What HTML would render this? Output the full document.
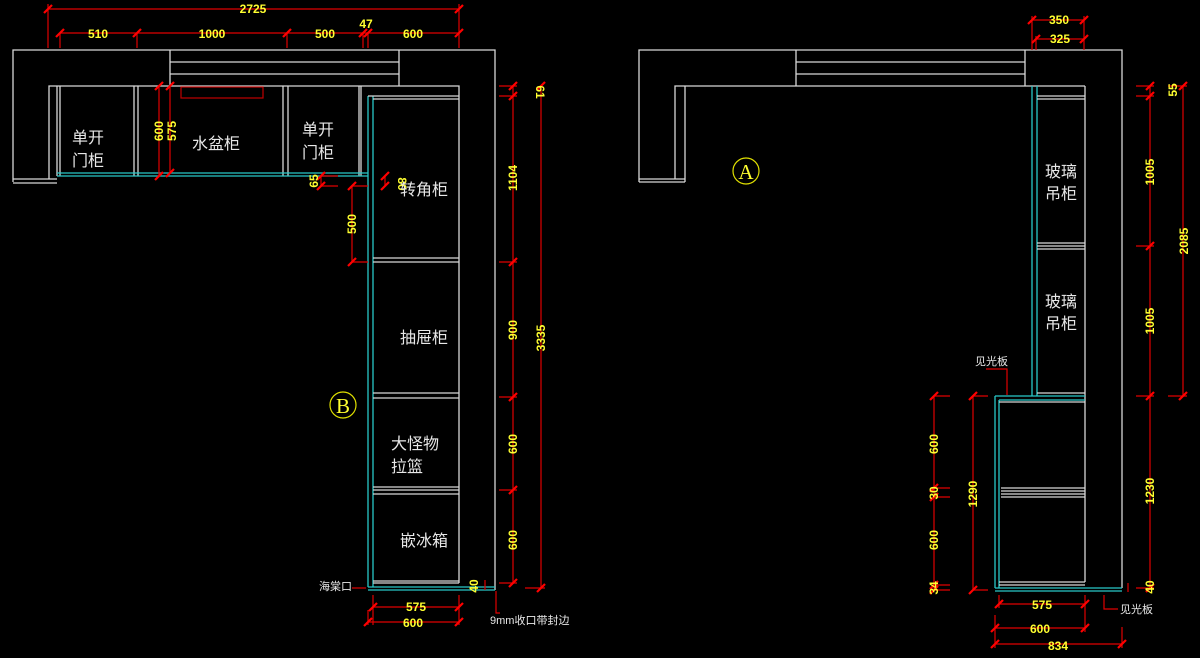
<!DOCTYPE html>
<html><head><meta charset="utf-8"><style>
html,body{margin:0;padding:0;background:#000;}
svg{display:block}
.w{stroke:#d8d8d8;stroke-width:1.3;fill:none}
.c{stroke:#28c8c8;stroke-width:1.3;fill:none}
.r{stroke:#e00000;stroke-width:1.2;fill:none}
.t{fill:#e8e8e8;font-family:"Liberation Sans","Noto Sans CJK SC",sans-serif;font-size:16px}
.d{fill:#ffff30;font-family:"Liberation Sans Narrow","Liberation Sans",sans-serif;font-size:12px;font-weight:bold}
.s{fill:#e8e8e8;font-family:"Liberation Sans","Noto Sans CJK SC",sans-serif;font-size:11px}
</style></head><body>
<svg width="1200" height="658" viewBox="0 0 1200 658" xmlns="http://www.w3.org/2000/svg">
<defs>
<g id="tk"><line x1="-4" y1="4" x2="4" y2="-4" stroke="#ff0000" stroke-width="2.2"/></g>
</defs>

<!-- ============ LEFT DRAWING ============ -->
<path class="w" d="M13 182 V50 H495 V590"/>
<path class="w" d="M13 179 H57 M13 183 H57"/>
<path class="w" d="M49 179 V86 H459 V583"/>
<path class="w" d="M170 50 V86 M399 50 V86 M170 62 H399 M170 74 H399"/>
<path class="w" d="M57 86 V176 M60 86 V176 M134 86 V176 M138 86 V176 M283 86 V176 M288 86 V176 M359 86 V176 M361 86 V176"/>
<rect x="181" y="87" width="82" height="11" fill="none" stroke="#c00000" stroke-width="1.2"/>
<path class="c" d="M57 173 H368 M57 176 H368"/>
<path class="c" d="M368 96 V587 M373 96 V587 M368 587 H495 M368 590 H495"/>
<path class="w" d="M368 96 H459 M373 99 H459 M373 258 H459 M373 262 H459 M373 393 H459 M373 398 H459 M373 487 H459 M373 490 H459 M373 494 H459 M373 581 H459 M373 583 H459"/>

<!-- left dims -->
<path class="r" d="M48 9 H459 M48 4 V48 M459 4 V48"/>
<use href="#tk" x="48" y="9"/><use href="#tk" x="459" y="9"/>
<text class="d" x="253" y="13" text-anchor="middle">2725</text>
<path class="r" d="M60 33 H459 M60 33 V48 M137 33 V48 M287 33 V48 M363 33 V48 M368 33 V48"/>
<use href="#tk" x="60" y="33"/><use href="#tk" x="137" y="33"/><use href="#tk" x="287" y="33"/><use href="#tk" x="363" y="33"/><use href="#tk" x="368" y="33"/><use href="#tk" x="459" y="33"/>
<text class="d" x="98" y="38" text-anchor="middle">510</text>
<text class="d" x="212" y="38" text-anchor="middle">1000</text>
<text class="d" x="325" y="38" text-anchor="middle">500</text>
<text class="d" x="366" y="28" text-anchor="middle">47</text>
<text class="d" x="413" y="38" text-anchor="middle">600</text>
<path class="r" d="M159 86 V176 M170 86 V173"/>
<use href="#tk" x="159" y="86"/><use href="#tk" x="159" y="176"/><use href="#tk" x="170" y="86"/><use href="#tk" x="170" y="173"/>
<text class="d" transform="translate(163,131) rotate(-90)" text-anchor="middle">600</text>
<text class="d" transform="translate(176,131) rotate(-90)" text-anchor="middle">575</text>
<path class="r" d="M321 176 V186 M321 176 H338 M321 186 H338 M352 186 V262 M352 186 H368 M352 262 H368 M385 176 V186"/>
<use href="#tk" x="321" y="176"/><use href="#tk" x="321" y="186"/><use href="#tk" x="352" y="186"/><use href="#tk" x="352" y="262"/><use href="#tk" x="385" y="176"/><use href="#tk" x="385" y="186"/>
<text class="d" transform="translate(318,181) rotate(-90)" text-anchor="middle">65</text>
<text class="d" transform="translate(398,184) rotate(90)" text-anchor="middle">80</text>
<text class="d" transform="translate(356,224) rotate(-90)" text-anchor="middle">500</text>
<path class="r" d="M513 86 V583 M499 86 H517 M499 96 H517 M499 262 H517 M499 397 H517 M499 490 H517 M499 583 H517 M541 86 V588 M525 588 H545"/>
<use href="#tk" x="513" y="86"/><use href="#tk" x="513" y="96"/><use href="#tk" x="513" y="262"/><use href="#tk" x="513" y="397"/><use href="#tk" x="513" y="490"/><use href="#tk" x="513" y="583"/><use href="#tk" x="541" y="86"/><use href="#tk" x="541" y="588"/>
<text class="d" transform="translate(517,178) rotate(-90)" text-anchor="middle">1104</text>
<text class="d" transform="translate(517,330) rotate(-90)" text-anchor="middle">900</text>
<text class="d" transform="translate(517,444) rotate(-90)" text-anchor="middle">600</text>
<text class="d" transform="translate(517,540) rotate(-90)" text-anchor="middle">600</text>
<text class="d" transform="translate(536,92) rotate(90)" text-anchor="middle">61</text>
<text class="d" transform="translate(545,338) rotate(-90)" text-anchor="middle">3335</text>
<text class="d" transform="translate(478,586) rotate(-90)" text-anchor="middle">40</text>
<path class="r" d="M485 580 V590"/>
<path class="r" d="M373 595 V625 M459 595 V625 M368 610 V625 M373 607 H459 M368 622 H459"/>
<use href="#tk" x="373" y="607"/><use href="#tk" x="459" y="607"/><use href="#tk" x="368" y="622"/><use href="#tk" x="459" y="622"/>
<text class="d" x="416" y="611" text-anchor="middle">575</text>
<text class="d" x="413" y="627" text-anchor="middle">600</text>
<path class="r" d="M496 591 V613 H500"/>
<text class="s" x="490" y="624">9mm收口带封边</text>
<text class="s" x="319" y="590">海棠口</text>
<path class="r" d="M352 588 H366"/>
<circle cx="343" cy="405" r="13" fill="none" stroke="#e0e000" stroke-width="1.2"/>
<text x="343" y="413" text-anchor="middle" style="fill:#ffff30;font-family:'Liberation Serif',serif;font-size:21px">B</text>

<text class="t" x="72" y="143">单开</text><text class="t" x="72" y="166">门柜</text>
<text class="t" x="192" y="149">水盆柜</text>
<text class="t" x="302" y="135">单开</text><text class="t" x="302" y="158">门柜</text>
<text class="t" x="400" y="195">转角柜</text>
<text class="t" x="400" y="343">抽屉柜</text>
<text class="t" x="391" y="449">大怪物</text><text class="t" x="391" y="472">拉篮</text>
<text class="t" x="400" y="546">嵌冰箱</text>

<!-- ============ RIGHT DRAWING ============ -->
<path class="w" d="M639 182 V50 H1122 V588"/>
<path class="w" d="M639 179 H685 M639 182 H685 M675 179 V86 H1085 M685 86 V182"/>
<path class="w" d="M796 50 V86 M1025 50 V86 M796 62 H1025 M796 74 H1025"/>
<path class="c" d="M1032 86 V396 M1037 86 V396"/>
<path class="w" d="M1085 86 V582 M1037 96 H1085 M1037 99 H1085 M1037 243 H1085 M1037 246 H1085 M1037 249 H1085 M1037 393 H1085"/>
<path class="c" d="M995 396 H1085 M999 400 H1085 M995 396 V588 M999 400 V588 M995 588 H1122 M995 591 H1122"/>
<path class="w" d="M999 402 H1085 M1001 488 H1085 M1001 491 H1085 M1001 494 H1085 M1001 497 H1085 M999 582 H1085 M999 585 H1085"/>
<circle cx="746" cy="171" r="13" fill="none" stroke="#e0e000" stroke-width="1.2"/>
<text x="746" y="179" text-anchor="middle" style="fill:#ffff30;font-family:'Liberation Serif',serif;font-size:21px">A</text>
<text class="t" x="1045" y="177">玻璃</text><text class="t" x="1045" y="199">吊柜</text>
<text class="t" x="1045" y="307">玻璃</text><text class="t" x="1045" y="329">吊柜</text>

<!-- right dims -->
<path class="r" d="M1032 20 H1084 M1036 39 H1084 M1032 16 V50 M1036 36 V50 M1084 16 V50"/>
<use href="#tk" x="1032" y="20"/><use href="#tk" x="1084" y="20"/><use href="#tk" x="1036" y="39"/><use href="#tk" x="1084" y="39"/>
<text class="d" x="1059" y="24" text-anchor="middle">350</text>
<text class="d" x="1060" y="43" text-anchor="middle">325</text>
<path class="r" d="M1150 86 V588 M1136 86 H1154 M1136 96 H1154 M1136 246 H1154 M1136 396 H1154 M1136 588 H1154 M1183 86 V396 M1168 86 H1187 M1168 396 H1187"/>
<use href="#tk" x="1150" y="86"/><use href="#tk" x="1150" y="96"/><use href="#tk" x="1150" y="246"/><use href="#tk" x="1150" y="396"/><use href="#tk" x="1150" y="588"/><use href="#tk" x="1183" y="86"/><use href="#tk" x="1183" y="396"/>
<text class="d" transform="translate(1154,172) rotate(-90)" text-anchor="middle">1005</text>
<text class="d" transform="translate(1154,321) rotate(-90)" text-anchor="middle">1005</text>
<text class="d" transform="translate(1154,491) rotate(-90)" text-anchor="middle">1230</text>
<text class="d" transform="translate(1177,90) rotate(-90)" text-anchor="middle">55</text>
<text class="d" transform="translate(1188,241) rotate(-90)" text-anchor="middle">2085</text>
<text class="d" transform="translate(1154,587) rotate(-90)" text-anchor="middle">40</text>
<path class="r" d="M1128 583 V592"/>
<path class="r" d="M934 396 V590 M934 396 H950 M934 488 H950 M934 497 H950 M934 585 H950 M934 590 H950 M973 396 V590 M973 396 H988 M973 590 H988"/>
<use href="#tk" x="934" y="396"/><use href="#tk" x="934" y="488"/><use href="#tk" x="934" y="497"/><use href="#tk" x="934" y="585"/><use href="#tk" x="934" y="590"/><use href="#tk" x="973" y="396"/><use href="#tk" x="973" y="590"/>
<text class="d" transform="translate(938,444) rotate(-90)" text-anchor="middle">600</text>
<text class="d" transform="translate(938,493) rotate(-90)" text-anchor="middle">30</text>
<text class="d" transform="translate(938,540) rotate(-90)" text-anchor="middle">600</text>
<text class="d" transform="translate(938,588) rotate(-90)" text-anchor="middle">34</text>
<text class="d" transform="translate(977,494) rotate(-90)" text-anchor="middle">1290</text>
<path class="r" d="M999 595 V608 M1085 595 V632 M995 615 V648 M1122 627 V648 M999 604 H1085 M995 628 H1085 M995 644 H1122"/>
<use href="#tk" x="999" y="604"/><use href="#tk" x="1085" y="604"/><use href="#tk" x="995" y="628"/><use href="#tk" x="1085" y="628"/><use href="#tk" x="995" y="644"/><use href="#tk" x="1122" y="644"/>
<text class="d" x="1042" y="609" text-anchor="middle">575</text>
<text class="d" x="1040" y="633" text-anchor="middle">600</text>
<text class="d" x="1058" y="650" text-anchor="middle">834</text>
<path class="r" d="M1104 595 V609 H1118"/>
<text class="s" x="1120" y="613">见光板</text>
<path class="r" d="M986 369 H1007 V395"/>
<text class="s" x="975" y="365">见光板</text>
</svg>
</body></html>
